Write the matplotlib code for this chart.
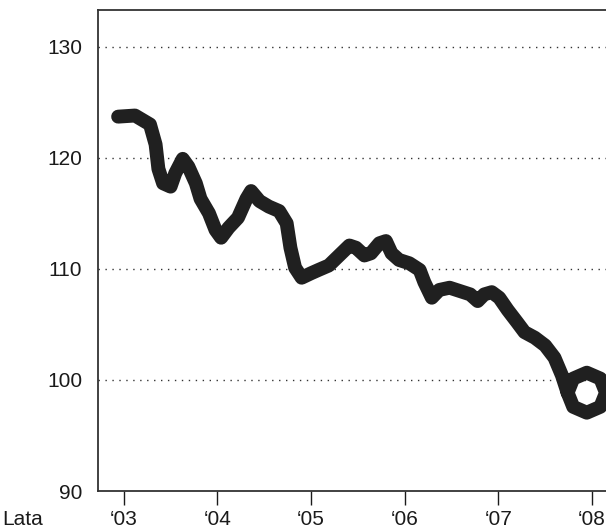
import matplotlib.pyplot as plt

plt.rcParams['font.family'] = ['Liberation Sans', 'DejaVu Sans']

# index path (decimal year, value); ends with a small loop at '08
years = [2002.94, 2003.12, 2003.28, 2003.34, 2003.37, 2003.42, 2003.5, 2003.55,
         2003.63, 2003.69, 2003.77, 2003.82, 2003.91, 2003.98, 2004.04, 2004.12,
         2004.22, 2004.31, 2004.36, 2004.45, 2004.55, 2004.66, 2004.74, 2004.78,
         2004.83, 2004.9, 2005.0, 2005.08, 2005.19, 2005.3, 2005.41, 2005.48,
         2005.57, 2005.64, 2005.73, 2005.8, 2005.86, 2005.94, 2006.05, 2006.16,
         2006.21, 2006.29, 2006.37, 2006.48, 2006.59, 2006.7, 2006.78, 2006.85,
         2006.93, 2007.01, 2007.1, 2007.2, 2007.28, 2007.39, 2007.5, 2007.6,
         2007.68, 2007.74, 2007.8, 2007.945, 2008.09, 2008.15, 2008.09, 2007.945,
         2007.8, 2007.74]
values = [123.7, 123.8, 123.0, 121.2, 119.0, 117.7, 117.4, 118.6,
          119.9, 119.2, 117.7, 116.3, 115.0, 113.5, 112.8, 113.7,
          114.6, 116.3, 117.0, 116.1, 115.6, 115.2, 114.1, 111.9,
          110.1, 109.2, 109.6, 109.9, 110.3, 111.2, 112.1, 111.9,
          111.2, 111.4, 112.3, 112.5, 111.4, 110.8, 110.5, 109.9,
          108.8, 107.4, 108.1, 108.3, 108.0, 107.7, 107.1, 107.7,
          107.9, 107.4, 106.3, 105.2, 104.3, 103.8, 103.1, 102.0,
          100.4, 98.85, 97.58, 97.05, 97.58, 98.85, 100.12, 100.65,
          100.12, 98.85]

yticks = [90, 100, 110, 120, 130]
xtick_years = [2003, 2004, 2005, 2006, 2007, 2008]
xtick_labels = ['\u201803', '\u201804', '\u201805', '\u201806', '\u201807', '\u201808']

fig = plt.figure(figsize=(6.06, 5.31), dpi=100)
ax = fig.add_axes([98 / 606, 40 / 531, 1 - 98 / 606 + 0.01, 481 / 531])

for v in yticks[1:]:
    ax.axhline(v, color='#333333', lw=1.0, ls=(0, (1, 4)), zorder=1)

ax.plot(years, values, color='#202020', lw=10, solid_capstyle='round',
        solid_joinstyle='round', zorder=3)

ax.set_xlim(2002.725, 2008.215)
ax.set_ylim(90, 133.3)
ax.set_yticks(yticks)
ax.set_xticks(xtick_years)
ax.set_xticklabels(xtick_labels)

for s in ['left', 'top', 'bottom']:
    ax.spines[s].set_color('#333333')
    ax.spines[s].set_linewidth(1.3)
ax.spines['right'].set_visible(False)

ax.tick_params(axis='y', length=0, pad=11.5, labelsize=15, colors='#1a1a1a')
ax.tick_params(axis='x', direction='out', length=10, width=1.0, pad=4,
               labelsize=15, colors='#1a1a1a')

fig.text(2 / 606, 0.021, 'Lata', fontsize=15, color='#1a1a1a', va='center', ha='left')

fig.savefig('out.png', dpi=100)
